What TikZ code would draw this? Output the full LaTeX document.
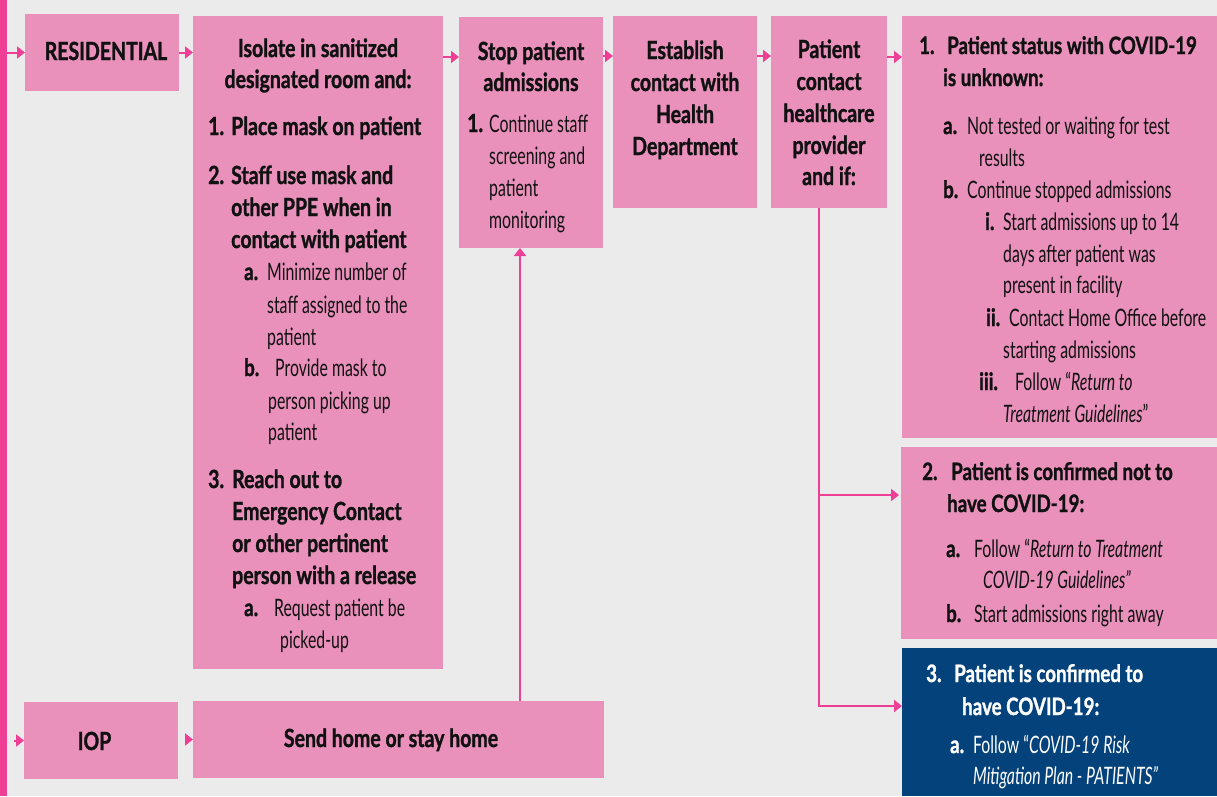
\documentclass[tikz,border=0pt]{standalone}
\usepackage{fontspec}
\usetikzlibrary{arrows.meta}
\newfontfamily\Bf{Lato}[FakeStretch=0.78,BoldFeatures={FakeBold=1.2}]
\newfontfamily\Rf{Lato}[FakeStretch=0.66]
\definecolor{bgc}{RGB}{235,235,235}
\definecolor{boxpink}{RGB}{233,144,187}
\definecolor{arrpink}{RGB}{238,62,150}
\definecolor{boxblue}{RGB}{4,66,124}
\definecolor{ink}{RGB}{17,17,17}
\newcommand\hd{\Bf\bfseries\fontsize{25}{30}\selectfont}
\newcommand\sh{\Bf\bfseries\fontsize{24}{30}\selectfont}
\newcommand\rg{\Rf\fontsize{24}{30}\selectfont}
\newcommand\Lb[2]{\makebox[#1pt][l]{#2}}
\tikzset{
  box/.style={fill=boxpink,draw=none,inner sep=0pt,outer sep=0pt,anchor=north west},
  arr/.style={draw=arrpink,line width=2pt,-{Triangle[length=8pt,width=12pt]}},
  lt/.style={anchor=base west,inner sep=0pt,text=ink},
  ct/.style={anchor=base,inner sep=0pt,text=ink},
  wt/.style={text=white},
}
\begin{document}
\begin{tikzpicture}[x=1pt,y=-1pt]
\useasboundingbox (0,0) rectangle (1217,796);
\fill[bgc] (0,0) rectangle (1217,796);
\fill[arrpink] (0,0) rectangle (7,796);
% boxes
\node[box,minimum width=154pt,minimum height=77pt] (res) at (25,14) {};
\node[box,minimum width=250pt,minimum height=653pt] (iso) at (193,16) {};
\node[box,minimum width=144pt,minimum height=231pt] (stop) at (459,17) {};
\node[box,minimum width=144pt,minimum height=192pt] (est) at (613,16) {};
\node[box,minimum width=116pt,minimum height=192pt] (pat) at (771,16) {};
\node[box,minimum width=315pt,minimum height=422pt] (b1) at (902,16) {};
\node[box,minimum width=316pt,minimum height=192pt] (b2) at (901,447) {};
\node[box,fill=boxblue,minimum width=315pt,minimum height=148pt] (b3) at (902,648) {};
\node[box,minimum width=154pt,minimum height=77pt] (iop) at (24,702) {};
\node[box,minimum width=411pt,minimum height=77pt] (send) at (193,701) {};
% connectors
\coordinate (barR) at (7,52.5);
\coordinate (barI) at (14,740.5);
\coordinate (iopR) at (186,739.5);
\coordinate (patS) at ([xshift=-10pt]pat.south);
\coordinate (b2in) at ([yshift=48pt]b2.west);
\coordinate (b3in) at ([yshift=16pt]b3.west);
\coordinate (br) at (patS |- b2in);
\coordinate (sendT) at ([xshift=121.5pt]send.north);
\draw[arr] (barR) -- (res.west);
\draw[arr] (res.east) -- (res.east -| iso.west);
\draw[arr] ([yshift=-41pt]iso.north east) -- ([yshift=-41pt]iso.north east -| stop.west);
\draw[arr] ([yshift=-39pt]stop.north east) -- ([yshift=-39pt]stop.north east -| est.west);
\draw[arr] ([yshift=-40pt]est.north east) -- ([yshift=-40pt]est.north east -| pat.west);
\draw[arr] ([yshift=-41pt]pat.north east) -- ([yshift=-41pt]pat.north east -| b1.west);
\draw[arr] (patS) |- (b3in);
\draw[arr,shorten >=2pt] (br) -- (b2in);
\draw[arr] (barI) -- (iop.west);
\draw[arr] (iopR) -- (iopR -| send.west);
\draw[arr] (sendT) -- (sendT |- stop.south);
% texts
\node[ct,font=\hd] (tres) at (106,60) {RESIDENTIAL};
\node[ct,font=\hd] (tiop) at (94.5,750) {IOP};
\node[ct,font=\hd] (tsend) at (391,747) {Send home or stay home};
% isolate
\node[ct,font=\hd] (i1) at (318,57) {Isolate in sanitized};
\node[ct,font=\hd] (i2) at (318,88) {designated room and:};
\node[lt,font=\hd] (i3) at (208,135) {\Lb{23}{1.}Place mask on patient};
\node[lt,font=\hd] (i4) at (208,184) {\Lb{23}{2.}Staff use mask and};
\node[lt,font=\hd] (i5) at (231,216) {other PPE when in};
\node[lt,font=\hd] (i6) at (231,248) {contact with patient};
\node[lt,font=\rg] (i7) at (244,280) {\Lb{23}{\sh a.}Minimize number of};
\node[lt,font=\rg] (i8) at (267,313) {staff assigned to the};
\node[lt,font=\rg] (i9) at (267,345) {patient};
\node[lt,font=\rg] (i10) at (244,376) {\Lb{31}{\sh b.}Provide mask to};
\node[lt,font=\rg] (i11) at (268,409) {person picking up};
\node[lt,font=\rg] (i12) at (268,440) {patient};
\node[lt,font=\hd] (i13) at (208,488) {\Lb{24}{3.}Reach out to};
\node[lt,font=\hd] (i14) at (232,520) {Emergency Contact};
\node[lt,font=\hd] (i15) at (232,552) {or other pertinent};
\node[lt,font=\hd] (i16) at (232,584) {person with a release};
\node[lt,font=\rg] (i17) at (244,616) {\Lb{30}{\sh a.}Request patient be};
\node[lt,font=\rg] (i18) at (280,648) {picked-up};
% stop
\node[ct,font=\hd] (s1) at (531,60) {Stop patient};
\node[ct,font=\hd] (s2) at (531,91) {admissions};
\node[lt,font=\rg] (s3) at (467,132) {\Lb{22}{\hd 1.}Continue staff};
\node[lt,font=\rg] (s4) at (489,164) {screening and};
\node[lt,font=\rg] (s5) at (489,196) {patient};
\node[lt,font=\rg] (s6) at (489,228) {monitoring};
% establish
\node[ct,font=\hd] (e1) at (685,59) {Establish};
\node[ct,font=\hd] (e2) at (685,91) {contact with};
\node[ct,font=\hd] (e3) at (685,123) {Health};
\node[ct,font=\hd] (e4) at (685,155) {Department};
% patient contact
\node[ct,font=\hd] (p1) at (829,58) {Patient};
\node[ct,font=\hd] (p2) at (829,90) {contact};
\node[ct,font=\hd] (p3) at (829,122) {healthcare};
\node[ct,font=\hd] (p4) at (829,154) {provider};
\node[ct,font=\hd] (p5) at (829,185) {and if:};
% box 1
\node[lt,font=\sh] (a1) at (919,54) {\Lb{28}{1.}Patient status with COVID-19};
\node[lt,font=\sh] (a2) at (943,86) {is unknown:};
\node[lt,font=\rg] (a3) at (943,134) {\Lb{24}{\sh a.}Not tested or waiting for test};
\node[lt,font=\rg] (a4) at (979,166) {results};
\node[lt,font=\rg] (a5) at (943,198) {\Lb{24}{\sh b.}Continue stopped admissions};
\node[lt,font=\rg] (a6) at (985,230) {\Lb{18}{\sh i.}Start admissions up to 14};
\node[lt,font=\rg] (a7) at (1003,262) {days after patient was};
\node[lt,font=\rg] (a8) at (1003,293) {present in facility};
\node[lt,font=\rg] (a9) at (986,326) {\Lb{23}{\sh ii.}Contact Home Office before};
\node[lt,font=\rg] (a10) at (1003,358) {starting admissions};
\node[lt,font=\rg] (a11) at (979,390) {\Lb{36}{\sh iii.}Follow “\textit{Return to}};
\node[lt,font=\rg] (a12) at (1003,422) {\textit{Treatment Guidelines}”};
% box 2
\node[lt,font=\sh] (c1) at (922,480) {\Lb{29}{2.}Patient is confirmed not to};
\node[lt,font=\sh] (c2) at (947,512) {have COVID-19:};
\node[lt,font=\rg] (c3) at (946,557) {\Lb{28}{\sh a.}Follow “\textit{Return to Treatment}};
\node[lt,font=\rg] (c4) at (983,588) {\textit{COVID-19 Guidelines”}};
\node[lt,font=\rg] (c5) at (946,622) {\Lb{28}{\sh b.}Start admissions right away};
% box 3
\node[lt,wt,font=\sh] (d1) at (926,682) {\Lb{28}{3.}Patient is confirmed to};
\node[lt,wt,font=\sh] (d2) at (962,715) {have COVID-19:};
\node[lt,wt,font=\rg] (d3) at (950,753) {\Lb{23}{\sh a.}Follow “\textit{COVID-19 Risk}};
\node[lt,wt,font=\rg] (d4) at (973,784) {\textit{Mitigation Plan - PATIENTS”}};
\end{tikzpicture}
\end{document}
